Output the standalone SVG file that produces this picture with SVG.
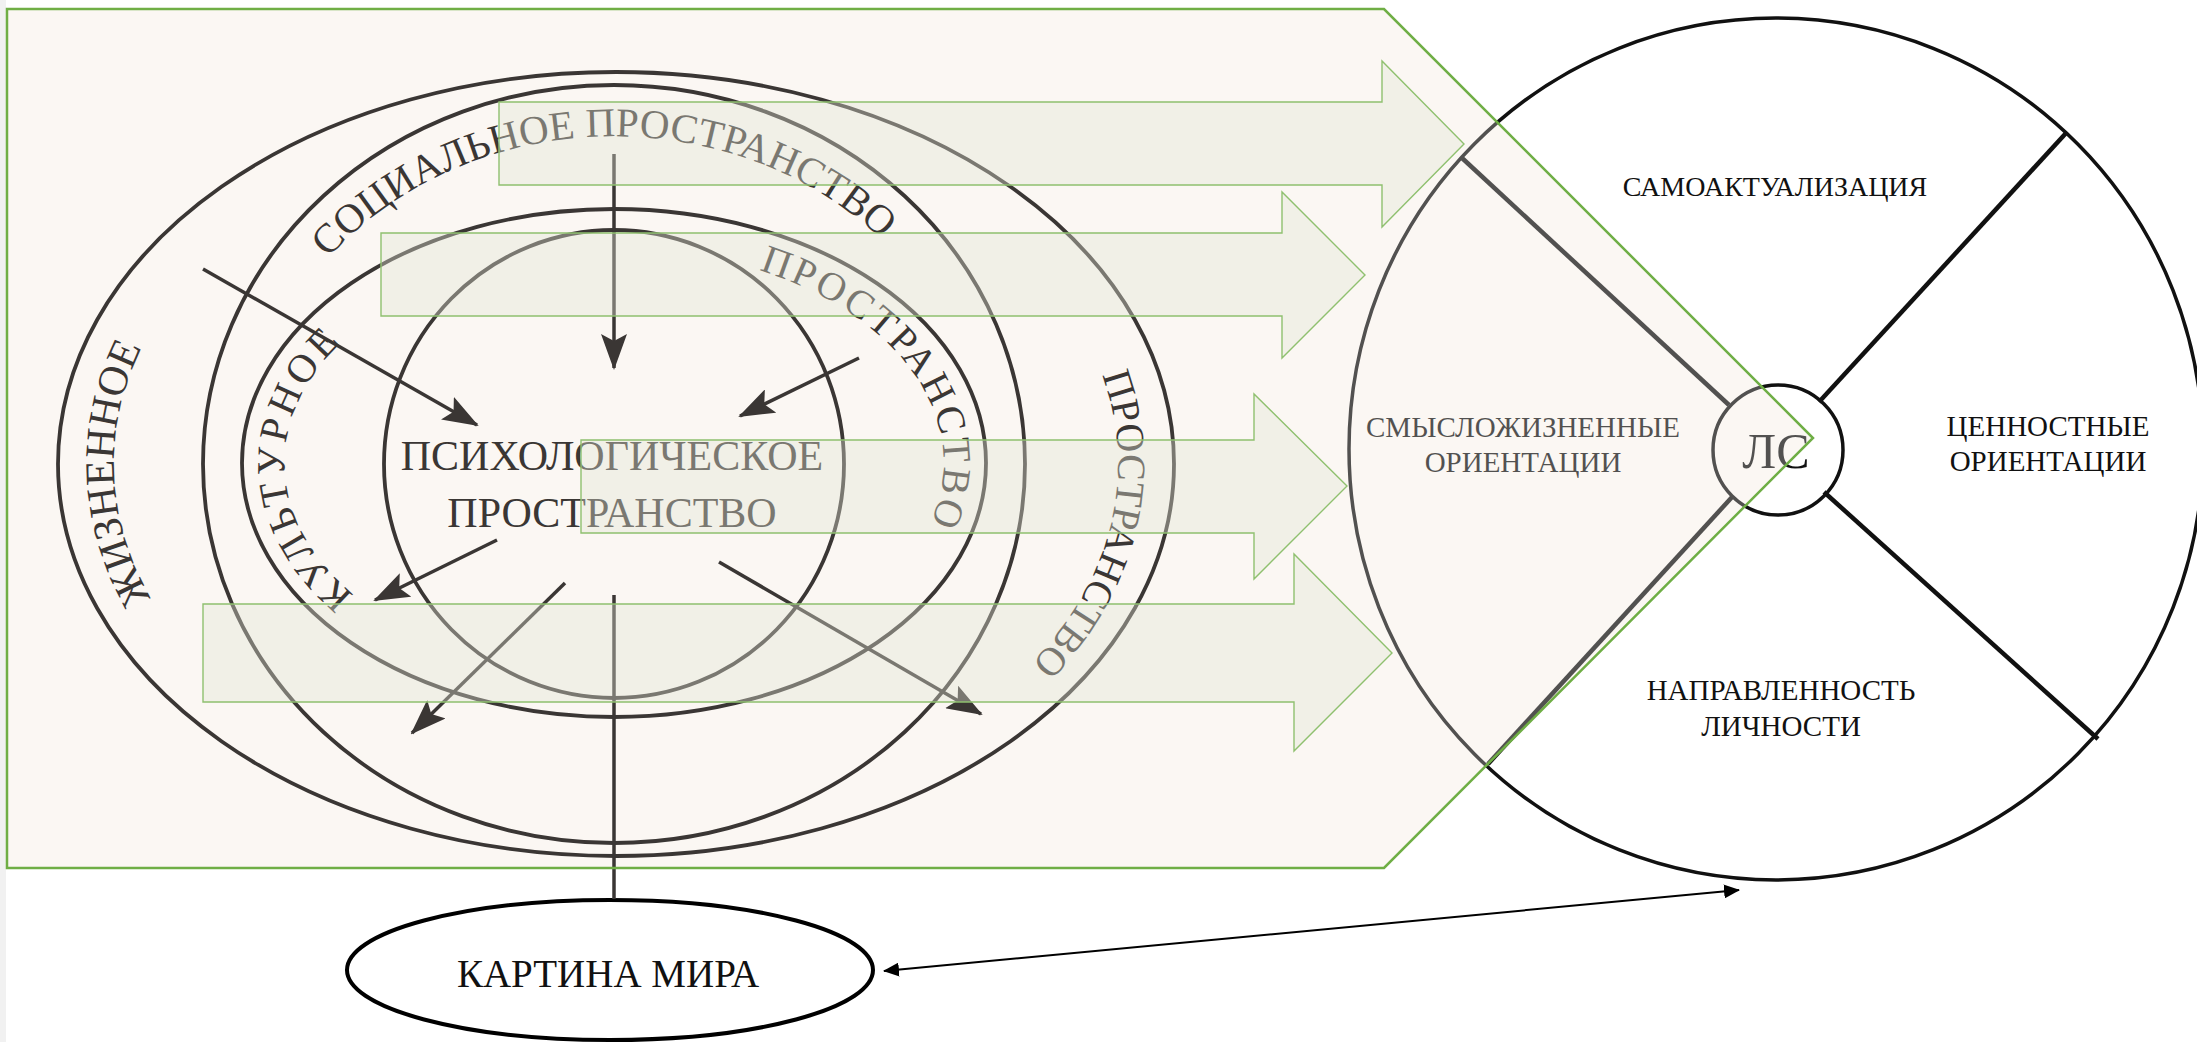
<svg xmlns="http://www.w3.org/2000/svg" width="2197" height="1042" viewBox="0 0 2197 1042">
<style>
.ring{fill:none;stroke:#3a3634;stroke-width:3.8}
.lbl{font-family:"Liberation Serif","Times New Roman",serif;fill:#3a3634}
.rlbl{font-family:"Liberation Serif","Times New Roman",serif;fill:#111;text-anchor:middle}
.curve{font-family:"Liberation Serif","Times New Roman",serif;fill:#3a3634}
.blk{fill:#e3e5d6;fill-opacity:0.38;stroke:#8fc06f;stroke-width:1.4}
.arr{fill:none;stroke:#3a3634;stroke-width:3.5;marker-end:url(#ah)}
.sec{stroke:#111;stroke-width:4.5}
</style>
<defs>
<marker id="ah" viewBox="0 0 36 26" refX="34" refY="13" markerWidth="36" markerHeight="26" markerUnits="userSpaceOnUse" orient="auto">
<path d="M0,0 L36,13 L0,26 L7,13 z" fill="#3a3634"/>
</marker>
<marker id="bh" viewBox="0 0 16 14" refX="15" refY="7" markerWidth="16" markerHeight="14" markerUnits="userSpaceOnUse" orient="auto-start-reverse">
<path d="M0,0 L16,7 L0,14 z" fill="#000"/>
</marker>
<path id="p-social" d="M 328,258 A 368,328 0 0 1 982,464"/>
<path id="p-life-left" d="M 151,598 A 502,355 0 0 1 616,109"/>
<path id="p-life-right" d="M 1102,375 A 502,355 0 0 1 616,819"/>
<path id="p-cult-left" d="M 354,595 A 330,215 0 0 1 614,248"/>
<path id="p-cult-right" d="M 759,270 A 330,215 0 0 1 614,678"/>
</defs>
<rect x="0" y="0" width="2197" height="1042" fill="#fff"/>
<rect x="0" y="0" width="6" height="1042" fill="#f1f1f1"/>
<g id="panel">
<polygon points="7,9 1384,9 1813,438 1384,868 7,868" fill="#fbf7f3"/>
</g>
<g id="life-space">
<ellipse class="ring" cx="616" cy="464" rx="558" ry="392"/>
<text class="curve" style="font-size:42px"><textPath href="#p-life-left">ЖИЗНЕННОЕ</textPath></text>
<text class="curve" style="font-size:40px"><textPath href="#p-life-right">ПРОСТРАНСТВО</textPath></text>
</g>
<g id="social-space">
<ellipse class="ring" cx="614" cy="464" rx="411" ry="379"/>
<text class="curve" style="font-size:41px"><textPath href="#p-social">СОЦИАЛЬНОЕ ПРОСТРАНСТВО</textPath></text>
</g>
<g id="culture-space">
<ellipse class="ring" cx="614" cy="463" rx="372" ry="254"/>
<text class="curve" style="font-size:40px;letter-spacing:4px"><textPath href="#p-cult-left">КУЛЬТУРНОЕ</textPath></text>
<text class="curve" style="font-size:40px;letter-spacing:3px"><textPath href="#p-cult-right">ПРОСТРАНСТВО</textPath></text>
</g>
<g id="psych-space">
<ellipse class="ring" cx="614" cy="464" rx="230" ry="234"/>
<text class="lbl" style="font-size:42px" text-anchor="middle" x="612" y="470">ПСИХОЛОГИЧЕСКОЕ</text>
<text class="lbl" style="font-size:42px" text-anchor="middle" x="612" y="527">ПРОСТРАНСТВО</text>
</g>
<g id="personality">
<ellipse cx="1776" cy="449" rx="427" ry="431" fill="none" stroke="#111" stroke-width="3.5"/>
<line class="sec" x1="1462" y1="158" x2="1729" y2="405"/>
<line class="sec" x1="2067" y1="132" x2="1819" y2="402"/>
<line class="sec" x1="1488" y1="764" x2="1733" y2="496"/>
<line class="sec" x1="2098" y1="739" x2="1824" y2="492"/>
<circle cx="1778" cy="450" r="65" fill="none" stroke="#111" stroke-width="3.5"/>
<text class="rlbl" style="font-size:28px" x="1775" y="196">САМОАКТУАЛИЗАЦИЯ</text>
<text class="rlbl" style="font-size:29px" x="2048" y="436">ЦЕННОСТНЫЕ</text>
<text class="rlbl" style="font-size:29px" x="2048" y="471">ОРИЕНТАЦИИ</text>
<text class="rlbl" style="font-size:29px" x="1523" y="437">СМЫСЛОЖИЗНЕННЫЕ</text>
<text class="rlbl" style="font-size:29px" x="1523" y="472">ОРИЕНТАЦИИ</text>
<text class="rlbl" style="font-size:29px" x="1781" y="700">НАПРАВЛЕННОСТЬ</text>
<text class="rlbl" style="font-size:29px" x="1781" y="736">ЛИЧНОСТИ</text>
<text class="rlbl" style="font-size:50px" x="1776" y="468">ЛС</text>
</g>
<polygon points="1330,9 1384,9 1813,438 1384,868 1330,868" fill="#fbf7f3" fill-opacity="0.28"/>
<g id="world-picture">
<ellipse cx="610" cy="970" rx="263" ry="70" fill="#fff" stroke="#000" stroke-width="4"/>
<text class="lbl" style="font-size:39px;fill:#111" text-anchor="middle" x="608" y="987">КАРТИНА МИРА</text>
</g>
<g id="connectors">
<line x1="614" y1="595" x2="614" y2="899" stroke="#3a3634" stroke-width="3.5"/>
<line class="arr" x1="614" y1="154" x2="614" y2="368"/>
<line class="arr" x1="203" y1="269" x2="477" y2="425"/>
<line class="arr" x1="859" y1="358" x2="740" y2="416"/>
<line class="arr" x1="497" y1="540" x2="375" y2="600"/>
<line class="arr" x1="565" y1="583" x2="412" y2="733"/>
<line class="arr" x1="719" y1="562" x2="981" y2="714"/>
<line x1="884" y1="971" x2="1739" y2="890" stroke="#000" stroke-width="2" marker-start="url(#bh)" marker-end="url(#bh)"/>
</g>
<g id="flow-arrows">
<polygon class="blk" points="499,102 1382,102 1382,61 1464,144 1382,227 1382,185 499,185"/>
<polygon class="blk" points="381,233 1282,233 1282,192 1365,275 1282,358 1282,316 381,316"/>
<polygon class="blk" points="581,440 1254,440 1254,394 1347,486 1254,579 1254,533 581,533"/>
<polygon class="blk" points="203,604 1294,604 1294,554 1392,653 1294,751 1294,702 203,702"/>
</g>
<g id="panel-outline">
<polygon points="7,9 1384,9 1813,438 1384,868 7,868" fill="none" stroke="#6fae45" stroke-width="2.5"/>
</g>
</svg>
